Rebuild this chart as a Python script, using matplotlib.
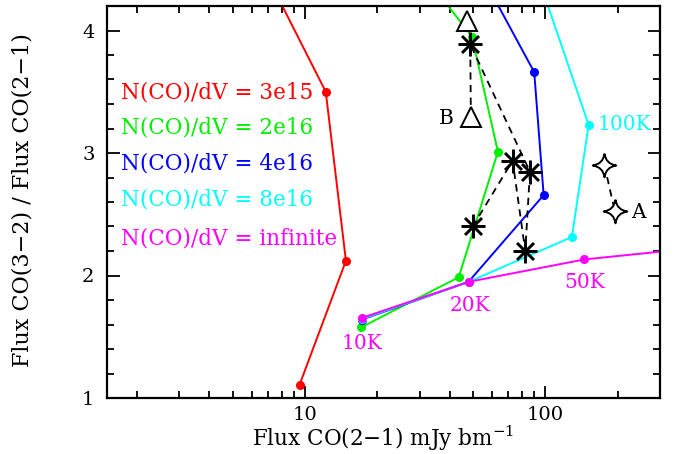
import matplotlib
matplotlib.use("Agg")
import matplotlib.pyplot as plt
from matplotlib.path import Path
from matplotlib.ticker import FixedLocator, MultipleLocator, NullFormatter

plt.rcParams['font.family'] = ['DejaVu Serif']
plt.rcParams['mathtext.fontset'] = 'dejavuserif'

# model curves, points at 10K, 20K, 50K, 100K, (200K)
red_x = [9.5, 14.8, 12.2, 5.0]
red_y = [1.11, 2.12, 3.50, 5.0]
green_x = [17.1, 43.6, 63.5, 49.5, 30.0]
green_y = [1.576, 1.986, 3.01, 3.95, 4.5]
blue_x = [17.2, 47.9, 98.4, 89.9, 49.5]
blue_y = [1.64, 1.948, 2.656, 3.66, 4.6]
cyan_x = [17.2, 47.9, 129.0, 151.4, 87.4]
cyan_y = [1.645, 1.948, 2.314, 3.23, 4.6]
mag_x = [17.2, 47.9, 145.3, 400.0]
mag_y = [1.653, 1.948, 2.131, 2.22]

curves = [
    (red_x, red_y, '#ff0000', 'N(CO)/dV = 3e15'),
    (green_x, green_y, '#00ee00', 'N(CO)/dV = 2e16'),
    (blue_x, blue_y, '#0000ff', 'N(CO)/dV = 4e16'),
    (cyan_x, cyan_y, '#00ffff', 'N(CO)/dV = 8e16'),
    (mag_x, mag_y, '#ff00ff', 'N(CO)/dV = infinite'),
]
legend_y = [0.780, 0.691, 0.599, 0.507, 0.408]

# observed points
ast_x = [48.7, 73.1, 86.3, 50.0, 82.5]
ast_y = [3.888, 2.937, 2.847, 2.404, 2.199]
path_x = [49.0, 48.7, 86.3, 82.5, 73.1, 50.0]
path_y = [3.29, 3.888, 2.847, 2.199, 2.937, 2.404]
tri_x = [47.2, 49.0]
tri_y = [4.08, 3.29]
star_x = [176.0, 194.5]
star_y = [2.904, 2.527]

temp_labels = ['10K', '20K', '50K', '100K']
temp_x = [17.3, 48.4, 145.3, 164.8]
temp_y = [1.448, 1.754, 1.94, 3.23]
temp_col = ['#ff00ff', '#ff00ff', '#ff00ff', '#00ffff']

fig = plt.figure(figsize=(6.81, 4.54), dpi=100)
ax = fig.add_axes([107/681, 1-398/454, 553/681, 392/454])

for xs, ys, c, lab in curves:
    ax.plot(xs, ys, '-o', color=c, lw=1.4, ms=5.5, clip_on=True)

for (xs, ys, c, lab), ly in zip(curves, legend_y):
    ax.text(0.026, ly, lab, color=c, fontsize=15.5, transform=ax.transAxes,
            ha='left', va='center')

ax.plot(path_x, path_y, '--', color='black', lw=1.3, dashes=(4, 3), zorder=5)
ax.plot(star_x, star_y, '--', color='black', lw=1.3, dashes=(4, 3), zorder=5)
ax.plot(ast_x, ast_y, ls='none', marker=(8, 2, 0), ms=17, mew=1.8,
        color='black', zorder=6)
ax.plot(tri_x, tri_y, ls='none', marker='^', ms=15, mew=1.4,
        mfc='white', mec='black', zorder=6)

verts = [(0, 1), (0.12, 0.12), (1, 0), (0.12, -0.12), (0, -1),
         (-0.12, -0.12), (-1, 0), (-0.12, 0.12), (0, 1)]
codes = [Path.MOVETO] + [Path.CURVE3] * 8
star4 = Path(verts, codes)
ax.plot(star_x, star_y, ls='none', marker=star4, ms=17, mew=1.4,
        mfc='white', mec='black', zorder=6)

ax.text(38.9, 3.28, 'B', fontsize=14.5, ha='center', va='center')
ax.text(244, 2.516, 'A', fontsize=14.5, ha='center', va='center')

for t, tx, ty, tc in zip(temp_labels, temp_x, temp_y, temp_col):
    ha = 'left' if t == '100K' else 'center'
    ax.text(tx, ty, t, color=tc, fontsize=14.5, ha=ha, va='center')

ax.set_xscale('log')
ax.set_xlim(1.5, 300)
ax.set_ylim(1, 4.2)
ax.xaxis.set_major_locator(FixedLocator([10, 100]))
ax.set_xticklabels(['10', '100'])
ax.xaxis.set_minor_formatter(NullFormatter())
ax.yaxis.set_major_locator(MultipleLocator(1))
ax.yaxis.set_minor_locator(MultipleLocator(0.2))
ax.tick_params(which='both', direction='in', top=True, right=True,
               labelsize=14, width=1.3)
ax.tick_params(which='major', length=9)
ax.tick_params(axis='x', which='major', pad=6)
ax.tick_params(axis='y', which='major', pad=9)
ax.tick_params(which='minor', length=5)
for s in ax.spines.values():
    s.set_linewidth(1.6)

fig.text(383.5/681, 1-446/454, 'Flux CO(2\u22121) mJy bm$^{-1}$',
         fontsize=15.5, ha='center', va='baseline')
fig.text(23/681, 1-200/454, 'Flux CO(3\u22122) / Flux CO(2\u22121)',
         fontsize=16, ha='center', va='center', rotation=90)

fig.savefig('out.png', dpi=100)
